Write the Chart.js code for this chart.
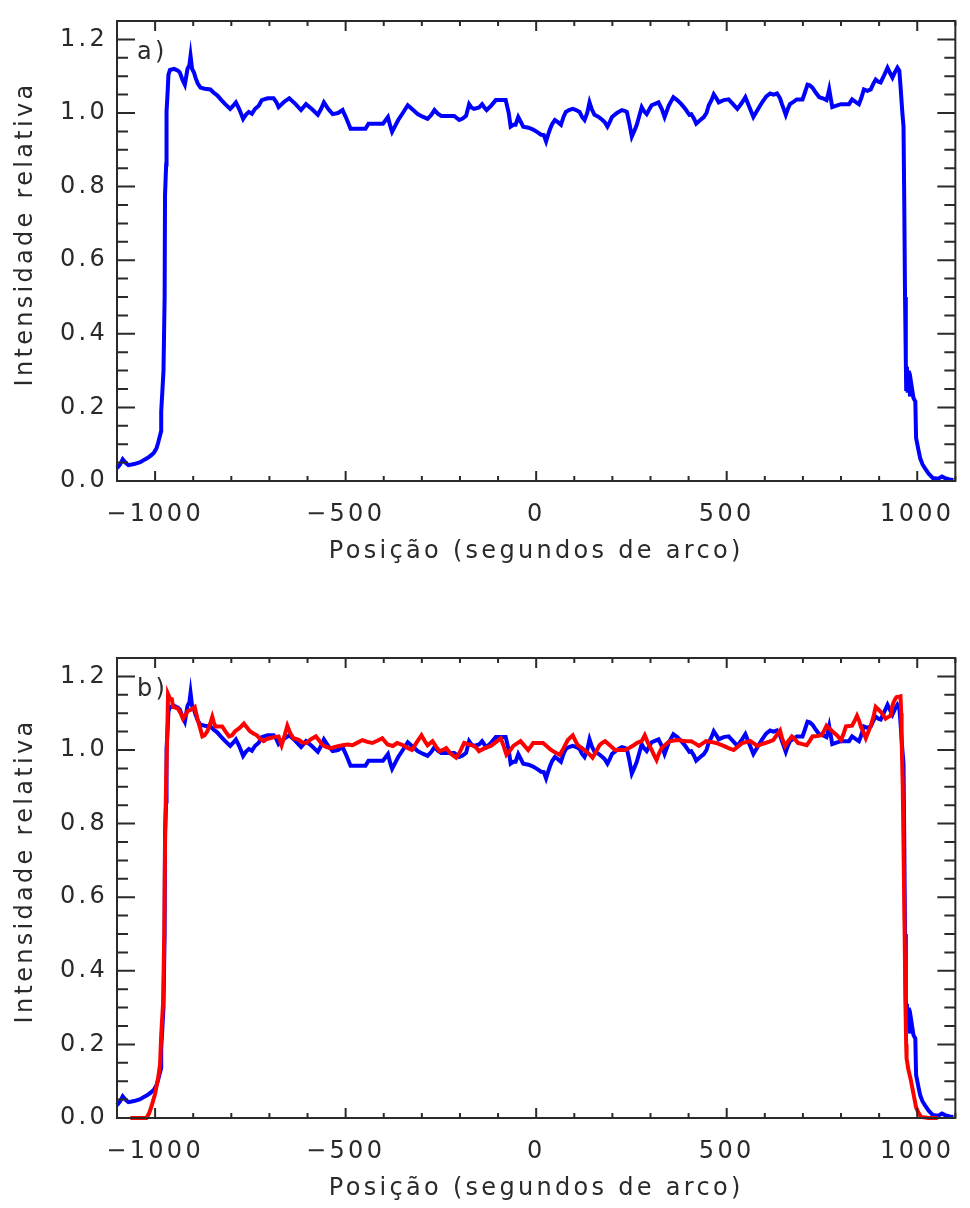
<!DOCTYPE html>
<html>
<head>
<meta charset="utf-8">
<script src="https://cdn.jsdelivr.net/npm/chart.js@4.4.1/dist/chart.umd.min.js"></script>
<style>
html, body { margin: 0; padding: 0; background: #fff; overflow: hidden; }
.panel { position: absolute; left: 0; width: 970px; height: 571px; }
</style>
</head>
<body>
<div class="panel" style="top:0"><canvas id="chartA"></canvas></div>
<div class="panel" style="top:637px"><canvas id="chartB"></canvas></div>
<script>
// tick values
const xTicks = [-1000, -500, 0, 500, 1000];
const yTicks = [0, 0.2, 0.4, 0.6, 0.8, 1.0, 1.2];
const xMinorStep = 100;
const yMinorStep = 0.05;
const yTitle = 'Intensidade relativa';
const xTitle = 'Posição (segundos de arco)';

// scan 1 (blue), position in arcsec
const posBlue = [
  -1100, -1092, -1085, -1078, -1070, -1055, -1039, -1028, -1018, -1010, -1003, -996, -992, -988, -984, -984, -981, -978, -975, -974,
  -971, -970, -967, -965, -961, -950, -940, -935, -928, -922, -915, -910, -907, -903, -898, -894, -888, -881, -870, -855,
  -846, -837, -826, -816, -803, -795, -788, -779, -769, -762, -754, -746, -738, -728, -720, -705, -689, -682, -676, -662,
  -648, -632, -617, -604, -588, -573, -565, -557, -545, -534, -520, -508, -498, -487, -468, -448, -440, -420, -402, -389,
  -383, -378, -370, -362, -350, -337, -325, -311, -298, -285, -275, -267, -258, -249, -230, -215, -202, -193, -184, -176,
  -170, -163, -150, -142, -136, -130, -118, -106, -93, -80, -72, -67, -60, -54, -47, -40, -34, -20, -8, 3,
  13, 20, 26, 31, 36, 42, 49, 57, 65, 72, 78, 86, 96, 105, 114, 120, 127, 134, 140, 146,
  153, 163, 174, 180, 187, 193, 199, 212, 225, 232, 238, 245, 251, 257, 264, 270, 277, 283, 290, 297,
  303, 312, 321, 330, 337, 348, 360, 370, 381, 392, 402, 407, 414, 420, 430, 440, 447, 453, 460, 466,
  473, 479, 492, 505, 516, 528, 538, 549, 560, 570, 582, 593, 604, 614, 623, 632, 640, 645, 650, 655,
  660, 666, 675, 684, 699, 705, 712, 718, 725, 734, 743, 752, 762, 766, 769, 773, 777, 788, 800, 810,
  821, 829, 838, 847, 853, 860, 869, 878, 885, 891, 898, 904, 912, 922, 928, 935, 941, 948, 953, 956,
  961, 964, 966, 968, 970, 971, 973, 975, 978, 981, 985, 990, 995, 997, 1003, 1008, 1014, 1020, 1030, 1041,
  1055, 1065, 1073, 1085, 1095
];
const intensBlue = [
  0.035, 0.045, 0.059, 0.050, 0.043, 0.046, 0.051, 0.058, 0.064, 0.070, 0.077, 0.090, 0.104, 0.120, 0.136, 0.189, 0.243, 0.300, 0.500, 0.776,
  0.860, 1.003, 1.060, 1.104, 1.117, 1.120, 1.115, 1.110, 1.090, 1.077, 1.120, 1.130, 1.155, 1.120, 1.110, 1.096, 1.080, 1.069, 1.066, 1.064,
  1.055, 1.048, 1.035, 1.024, 1.011, 1.020, 1.029, 1.010, 0.984, 0.995, 1.003, 0.998, 1.011, 1.020, 1.035, 1.040, 1.040, 1.030, 1.016, 1.030,
  1.040, 1.025, 1.008, 1.024, 1.010, 0.995, 1.010, 1.029, 1.010, 0.997, 1.000, 1.008, 0.985, 0.957, 0.957, 0.957, 0.971, 0.971, 0.971, 0.989,
  0.965, 0.949, 0.965, 0.981, 1.000, 1.021, 1.010, 0.997, 0.990, 0.984, 0.995, 1.008, 0.998, 0.992, 0.992, 0.992, 0.981, 0.985, 0.992, 1.024,
  1.015, 1.011, 1.015, 1.024, 1.015, 1.008, 1.020, 1.035, 1.035, 1.035, 1.000, 0.963, 0.968, 0.968, 0.989, 0.975, 0.963, 0.960, 0.955, 0.948,
  0.941, 0.940, 0.923, 0.940, 0.955, 0.970, 0.981, 0.975, 0.968, 0.990, 1.003, 1.008, 1.011, 1.008, 1.003, 0.990, 0.981, 1.000, 1.029, 1.010,
  0.995, 0.990, 0.981, 0.975, 0.963, 0.975, 0.989, 1.000, 1.008, 1.006, 1.003, 0.970, 0.936, 0.950, 0.968, 0.990, 1.016, 1.005, 0.997, 1.010,
  1.021, 1.025, 1.029, 1.010, 0.989, 1.020, 1.043, 1.035, 1.024, 1.010, 0.995, 0.997, 0.985, 0.971, 0.980, 0.989, 1.000, 1.021, 1.035, 1.051,
  1.040, 1.029, 1.035, 1.037, 1.025, 1.011, 1.025, 1.043, 1.015, 0.989, 1.010, 1.029, 1.045, 1.053, 1.050, 1.053, 1.040, 1.024, 1.010, 0.995,
  1.010, 1.024, 1.030, 1.037, 1.037, 1.055, 1.077, 1.075, 1.069, 1.055, 1.043, 1.040, 1.035, 1.050, 1.064, 1.040, 1.016, 1.020, 1.024, 1.024,
  1.024, 1.037, 1.030, 1.024, 1.040, 1.064, 1.060, 1.064, 1.080, 1.091, 1.085, 1.083, 1.100, 1.123, 1.110, 1.096, 1.110, 1.123, 1.115, 1.075,
  1.000, 0.963, 0.750, 0.500, 0.330, 0.250, 0.310, 0.240, 0.300, 0.230, 0.260, 0.226, 0.216, 0.117, 0.085, 0.061, 0.045, 0.035, 0.020, 0.008,
  0.006, 0.012, 0.008, 0.004, 0.003
];

// scan 2 (red)
const posRed = [
  -1065, -1023, -1016, -1010, -1005, -1000, -996, -992, -987, -984, -979, -976, -974, -971, -968, -966, -961, -956, -953, -946,
  -940, -933, -927, -920, -914, -905, -896, -889, -882, -876, -870, -863, -856, -850, -846, -842, -824, -815, -806, -798,
  -790, -778, -767, -758, -751, -742, -733, -724, -715, -707, -699, -688, -676, -672, -668, -660, -653, -645, -637, -630,
  -622, -613, -604, -590, -578, -569, -560, -550, -539, -523, -508, -495, -482, -469, -456, -443, -430, -417, -404, -390,
  -376, -365, -355, -345, -336, -326, -314, -301, -293, -285, -272, -263, -254, -245, -236, -224, -210, -200, -189, -176,
  -163, -156, -150, -135, -119, -105, -93, -85, -78, -69, -60, -50, -41, -31, -21, -14, -8, 5, 18, 28,
  39, 50, 62, 72, 83, 96, 103, 109, 120, 130, 140, 148, 157, 166, 174, 181, 194, 207, 220, 233,
  245, 256, 266, 277, 285, 293, 303, 310, 316, 322, 329, 340, 350, 362, 373, 384, 394, 407, 417, 427,
  437, 446, 459, 472, 482, 492, 505, 518, 530, 541, 552, 562, 571, 580, 590, 601, 612, 622, 631, 640,
  646, 653, 662, 671, 680, 687, 699, 710, 718, 725, 737, 749, 756, 762, 770, 777, 789, 800, 807, 813,
  821, 829, 836, 842, 848, 852, 859, 865, 872, 878, 885, 891, 898, 904, 911, 917, 924, 930, 935, 938,
  943, 946, 952, 956, 958, 959, 962, 964, 967, 969, 971, 972, 977, 982, 986, 990, 994, 997, 1003, 1010,
  1030, 1054
];
const intensRed = [
  0.000, 0.000, 0.012, 0.030, 0.048, 0.066, 0.088, 0.109, 0.146, 0.226, 0.314, 0.500, 0.740, 0.920, 1.050, 1.152, 1.140, 1.138, 1.117, 1.115,
  1.112, 1.100, 1.085, 1.095, 1.106, 1.110, 1.117, 1.085, 1.060, 1.037, 1.040, 1.051, 1.070, 1.090, 1.075, 1.064, 1.064, 1.050, 1.037, 1.040,
  1.051, 1.060, 1.072, 1.060, 1.051, 1.045, 1.040, 1.030, 1.024, 1.030, 1.032, 1.035, 1.037, 1.025, 1.013, 1.040, 1.066, 1.045, 1.032, 1.030,
  1.027, 1.020, 1.019, 1.030, 1.037, 1.025, 1.013, 1.008, 1.005, 1.010, 1.013, 1.015, 1.013, 1.020, 1.027, 1.022, 1.019, 1.025, 1.032, 1.015,
  1.011, 1.019, 1.015, 1.011, 1.005, 1.000, 1.020, 1.040, 1.025, 1.013, 1.024, 1.010, 0.997, 1.000, 1.005, 0.990, 0.979, 0.995, 1.019, 1.015,
  1.011, 1.005, 0.997, 1.005, 1.011, 1.022, 1.032, 1.010, 0.987, 0.998, 1.011, 1.018, 1.024, 1.012, 1.000, 1.010, 1.019, 1.019, 1.019, 1.010,
  1.000, 0.993, 0.987, 1.005, 1.027, 1.040, 1.025, 1.013, 1.005, 0.997, 0.988, 0.979, 0.995, 1.013, 1.020, 1.024, 1.012, 1.000, 1.000, 1.000,
  1.006, 1.013, 1.020, 1.024, 1.040, 1.020, 1.000, 0.985, 0.973, 0.990, 1.005, 1.015, 1.024, 1.026, 1.027, 1.025, 1.024, 1.024, 1.018, 1.011,
  1.018, 1.024, 1.022, 1.019, 1.015, 1.011, 1.005, 1.000, 1.010, 1.019, 1.022, 1.024, 1.018, 1.011, 1.015, 1.019, 1.023, 1.027, 1.040, 1.053,
  1.030, 1.011, 1.025, 1.037, 1.028, 1.019, 1.016, 1.013, 1.025, 1.037, 1.038, 1.040, 1.053, 1.066, 1.058, 1.051, 1.040, 1.027, 1.045, 1.064,
  1.065, 1.066, 1.080, 1.093, 1.078, 1.064, 1.048, 1.032, 1.050, 1.066, 1.090, 1.117, 1.110, 1.104, 1.095, 1.085, 1.090, 1.093, 1.120, 1.130,
  1.140, 1.144, 1.145, 1.146, 1.100, 1.032, 0.900, 0.740, 0.500, 0.314, 0.200, 0.162, 0.130, 0.109, 0.088, 0.066, 0.045, 0.029, 0.015, 0.003,
  0.000, 0.000
];

const textColor = '#2a2a2a';
const textFont = { family: 'DejaVu Sans', size: 24, lineHeight: 1 };

function toPoints(xs, ys) {
  return xs.map((x, i) => ({ x: x, y: ys[i] }));
}

// wide letter spacing for all canvas text
const spacingPlugin = {
  id: 'spacing',
  beforeDraw(chart) { chart.ctx.letterSpacing = '3.3px'; }
};

// box around the plot, inward ticks on all four sides, y title and panel tag
const framePlugin = {
  id: 'frame',
  afterDraw(chart, args, opts) {
    const { ctx, chartArea: a, scales: { x, y } } = chart;
    ctx.save();
    ctx.strokeStyle = textColor;
    ctx.lineWidth = 2;
    ctx.strokeRect(a.left, a.top, a.right - a.left, a.bottom - a.top);
    ctx.beginPath();
    const nx = Math.round((x.max - x.min) / xMinorStep);
    for (let i = 0; i <= nx; i++) {
      const v = x.min + i * xMinorStep;
      const px = x.getPixelForValue(v);
      const len = Math.abs(v % 500) < 1e-6 ? 10 : 5;
      ctx.moveTo(px, a.bottom); ctx.lineTo(px, a.bottom - len);
      ctx.moveTo(px, a.top); ctx.lineTo(px, a.top + len);
    }
    const ny = Math.round((y.max - y.min) / yMinorStep);
    for (let i = 0; i <= ny; i++) {
      const v = y.min + i * yMinorStep;
      const py = y.getPixelForValue(v);
      const len = i % 4 === 0 ? 18 : 11;
      ctx.moveTo(a.left, py); ctx.lineTo(a.left + len, py);
      ctx.moveTo(a.right, py); ctx.lineTo(a.right - len, py);
    }
    ctx.stroke();

    ctx.fillStyle = textColor;
    ctx.font = '24px "DejaVu Sans"';
    ctx.textBaseline = 'alphabetic';
    ctx.textAlign = 'left';
    ctx.fillText(opts.tag, a.left + 20, a.top + 38);

    // y title sits a little above the middle of the axis
    ctx.translate(26, a.top + 213);
    ctx.rotate(-Math.PI / 2);
    ctx.textAlign = 'center';
    ctx.textBaseline = 'middle';
    ctx.fillText(yTitle, 0, 0);
    ctx.restore();
  }
};

function makeChart(id, tag, datasets) {
  return new Chart(document.getElementById(id), {
    type: 'line',
    data: { datasets: datasets },
    plugins: [spacingPlugin, framePlugin],
    options: {
      responsive: true,
      maintainAspectRatio: false,
      animation: false,
      devicePixelRatio: 1,
      layout: { padding: { left: 0, right: 5, top: 12, bottom: 0 } },
      elements: { point: { radius: 0 }, line: { tension: 0 } },
      plugins: { legend: { display: false }, tooltip: { enabled: false }, frame: { tag: tag } },
      scales: {
        x: {
          type: 'linear',
          min: -1100,
          max: 1100,
          afterBuildTicks: s => { s.ticks = xTicks.map(v => ({ value: v })); },
          afterFit: s => { s.height = 90; },
          grid: { display: false, drawTicks: false },
          border: { display: false },
          ticks: {
            autoSkip: false,
            maxRotation: 0,
            padding: 22,
            color: textColor,
            font: textFont,
            callback: v => (v < 0 ? '\u2212' + Math.abs(v) : String(v))
          },
          title: {
            display: true,
            text: xTitle,
            color: textColor,
            font: textFont,
            padding: { top: 0, bottom: 7 }
          }
        },
        y: {
          min: 0,
          max: 1.25,
          afterBuildTicks: s => { s.ticks = yTicks.map(v => ({ value: v })); },
          afterFit: s => { s.width = 117; },
          grid: { display: false, drawTicks: false },
          border: { display: false },
          ticks: {
            padding: 9,
            color: textColor,
            font: textFont,
            callback: v => v.toFixed(1)
          }
        }
      }
    }
  });
}

const blueLine = () => ({
  data: toPoints(posBlue, intensBlue),
  borderColor: '#0000ff',
  borderWidth: 4,
  clip: 4
});

makeChart('chartA', 'a)', [blueLine()]);

makeChart('chartB', 'b)', [
  {
    data: toPoints(posRed, intensRed),
    borderColor: '#ff0000',
    borderWidth: 4,
    clip: 4
  },
  blueLine()
]);
</script>
</body>
</html>
